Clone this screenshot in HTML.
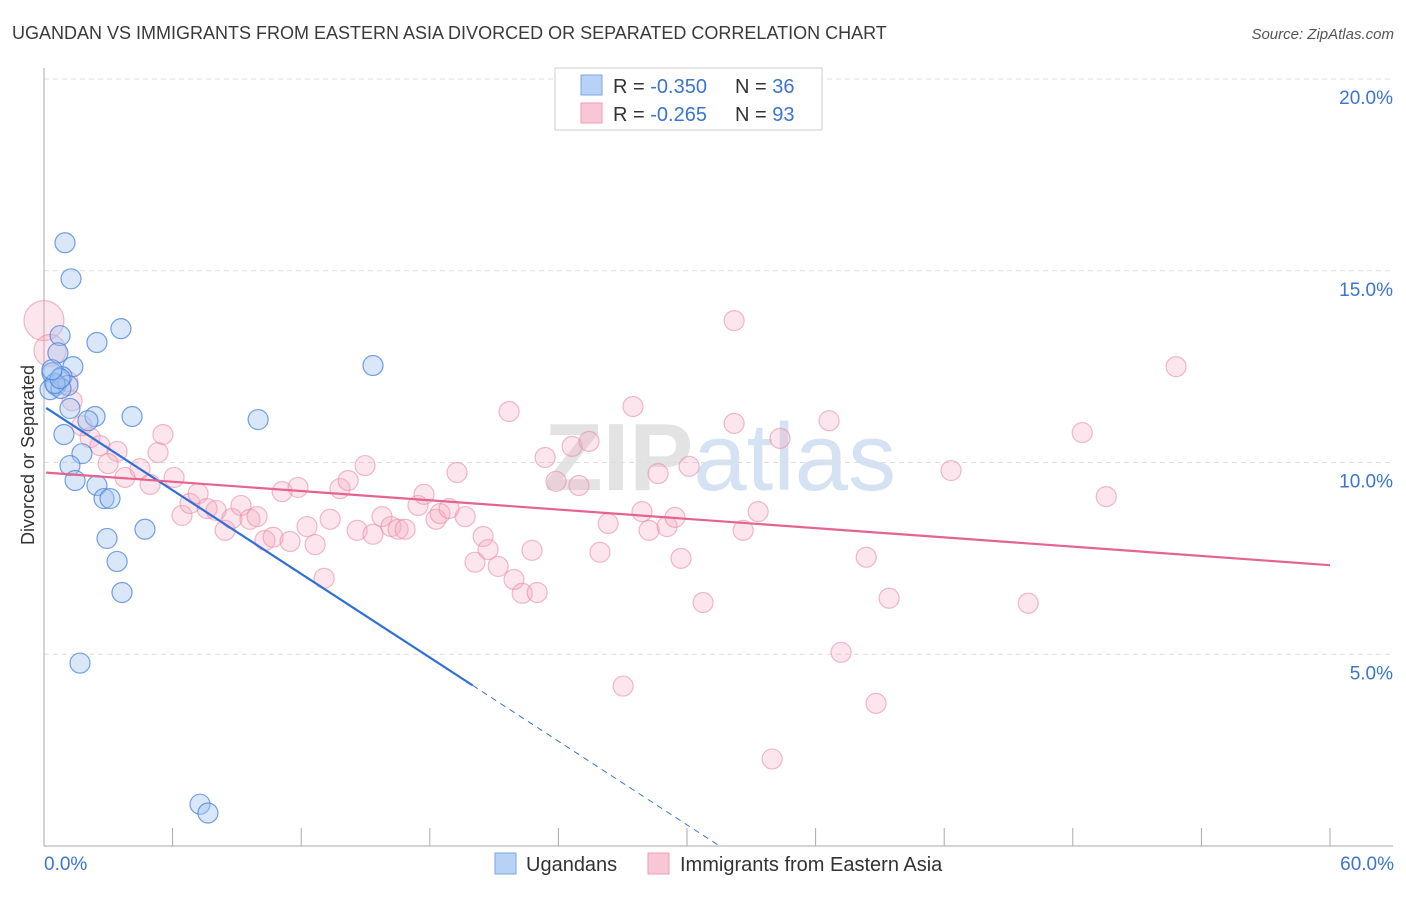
<!DOCTYPE html>
<html><head><meta charset="utf-8"><style>
body{margin:0;background:#fff;font-family:"Liberation Sans",sans-serif;}
svg text{font-family:"Liberation Sans",sans-serif;}
</style></head><body>
<svg id="chart" width="1406" height="892" xmlns="http://www.w3.org/2000/svg">
<text x="12" y="39" font-size="18" fill="#3a3a3a">UGANDAN VS IMMIGRANTS FROM EASTERN ASIA DIVORCED OR SEPARATED CORRELATION CHART</text>
<text x="1394" y="39" font-size="15" fill="#555" text-anchor="end" font-style="italic">Source: ZipAtlas.com</text>
<text x="720" y="490" font-size="96" fill="#e3e3e3" text-anchor="middle" font-family="Liberation Serif" font-weight="bold">ZIP<tspan fill="#d4e2f4" font-family="Liberation Sans" font-weight="normal">atlas</tspan></text>
<text transform="translate(34,455) rotate(-90)" font-size="18" fill="#333" text-anchor="middle">Divorced or Separated</text>
<g id="grid"></g><g id="axes"></g><g id="marks"></g><g id="lines"></g>
<g>
<rect x="555" y="68" width="267" height="62" fill="#fff" stroke="#ccc"/>
<rect x="581" y="75" width="21" height="20" fill="#b8d2f5" stroke="#7aa6e4"/>
<rect x="581" y="103" width="21" height="20" fill="#f8c6d4" stroke="#ee9db6"/>
<text x="613" y="93" font-size="20" fill="#333">R = <tspan fill="#3b74d1">-0.350</tspan><tspan x="735">N = </tspan><tspan fill="#3b74d1">36</tspan></text>
<text x="613" y="121" font-size="20" fill="#333">R = <tspan fill="#3b74d1"> -0.265</tspan><tspan x="735">N = </tspan><tspan fill="#3b74d1">93</tspan></text>
</g>
<g>
<rect x="495" y="853" width="21" height="21" fill="#b8d2f5" stroke="#7aa6e4"/>
<text x="526" y="871" font-size="20" fill="#333">Ugandans</text>
<rect x="648" y="853" width="21" height="21" fill="#f8c6d4" stroke="#ee9db6"/>
<text x="680" y="871" font-size="20" fill="#333">Immigrants from Eastern Asia</text>
</g>
</svg>
<script>
const blueX=[0.98,1.26,3.59,2.47,0.75,0.65,1.35,0.37,0.56,0.28,0.84,1.12,0.79,1.21,2.38,2.05,4.11,9.99,15.35,0.93,1.77,1.21,1.45,2.47,2.80,3.08,2.94,4.71,3.41,3.64,1.68,7.28,7.65,0.51,0.75,0.37];
const blueY=[15.73,14.79,13.49,13.13,13.31,12.86,12.50,12.34,12.01,11.90,12.24,12.01,11.93,11.41,11.20,11.09,11.20,11.12,12.53,10.73,10.23,9.92,9.53,9.40,9.06,9.06,8.02,8.26,7.42,6.61,4.77,1.09,0.86,12.06,12.19,12.42];
const pinkX=[0,0.28,1.12,1.31,1.77,2.15,2.61,3.41,2.99,3.78,4.48,4.95,5.32,5.55,6.07,6.44,6.81,7.19,7.61,8.03,8.45,8.77,9.19,9.61,9.94,10.31,10.69,11.11,11.48,11.85,12.27,12.65,13.07,13.35,13.81,14.19,14.61,14.98,15.35,15.77,16.19,16.52,16.85,17.45,17.73,18.29,18.48,18.90,19.27,19.65,20.11,20.49,20.72,21.19,21.70,21.93,22.31,22.77,23.01,23.38,23.89,24.64,24.96,25.43,25.94,26.32,27.02,27.48,27.90,28.23,28.65,29.07,29.44,29.72,30.10,30.75,32.20,32.20,32.62,33.32,33.97,34.34,36.63,37.19,38.36,38.82,39.43,42.32,45.92,48.44,49.56,52.82];
const pinkY=[13.70,12.92,12.11,11.61,10.96,10.65,10.44,10.29,9.97,9.61,9.84,9.43,10.26,10.73,9.61,8.62,8.93,9.19,8.80,8.75,8.23,8.54,8.88,8.52,8.59,7.97,8.05,9.24,7.94,9.35,8.33,7.86,6.98,8.52,9.32,9.53,8.23,9.92,8.13,8.59,8.33,8.26,8.26,8.88,9.17,8.52,8.67,8.80,9.74,8.59,7.40,8.07,7.73,7.29,11.33,6.95,6.59,7.71,6.61,10.13,9.51,10.42,9.40,10.55,7.66,8.41,4.17,11.46,8.72,8.23,9.71,8.33,8.57,7.50,9.90,6.35,13.70,11.02,8.23,8.72,2.27,10.63,11.09,5.05,7.53,3.72,6.46,9.79,6.33,10.78,9.11,12.50];
const pinkR=[20,16];
const blueTrend=[11.46,-0.3636];
const pinkTrend=[9.74,-0.0403];
const yTicks=[5,10,15,20];
const xTickCount=10;
const NS="http://www.w3.org/2000/svg";
const sx=v=>44+v*1286/60;
const sy=v=>846-v*38.35;
function mk(tag,attrs,parent){const e=document.createElementNS(NS,tag);for(const k in attrs)e.setAttribute(k,attrs[k]);parent.appendChild(e);return e;}
const grid=document.getElementById('grid'),axes=document.getElementById('axes'),marks=document.getElementById('marks'),lines=document.getElementById('lines');
yTicks.forEach(t=>{
 const l=mk('line',{x1:44,x2:1393,y1:sy(t),y2:sy(t),stroke:'#ddd','stroke-dasharray':'5,4'},grid);
 
 
 const tx=mk('text',{x:1393,y:sy(t)+25,'font-size':19,fill:'#3b74d1','text-anchor':'end'},grid);
 tx.textContent=t.toFixed(1)+'%';
 
 
});
const ax=mk('line',{x1:44,x2:44,y1:68,y2:846,stroke:'#aaa'},axes);


const bx=mk('line',{x1:44,x2:1393,y1:846,y2:846,stroke:'#aaa'},axes);


for(let i=1;i<=xTickCount;i++){const x=sx(i*60/xTickCount);const t=mk('line',{x1:x,x2:x,y1:828,y2:846,stroke:'#aaa'},axes);
 
 }
const xl0=mk('text',{x:44,y:870,'font-size':19,fill:'#3b74d1'},axes);xl0.textContent='0.0%';


const xl1=mk('text',{x:1394,y:870,'font-size':19,fill:'#3b74d1','text-anchor':'end'},axes);xl1.textContent='60.0%';


pinkX.forEach((v,i)=>{const c=mk('circle',{cx:sx(v),cy:sy(pinkY[i]),r:pinkR[i]||10,fill:'rgba(244,170,192,0.3)',stroke:'rgba(232,140,168,0.6)','stroke-width':1.2},marks);
 
 });
blueX.forEach((v,i)=>{const c=mk('circle',{cx:sx(v),cy:sy(blueY[i]),r:10,fill:'rgba(160,196,240,0.4)',stroke:'rgba(70,130,220,0.75)','stroke-width':1.2},marks);
 
 });
const bEnd=20.0, bZero=-blueTrend[0]/blueTrend[1];
const bl=mk('line',{x1:sx(0.1),y1:sy(blueTrend[0]+blueTrend[1]*0.1),x2:sx(bEnd),y2:sy(blueTrend[0]+blueTrend[1]*bEnd),stroke:'#2f6fd6','stroke-width':2.2},lines);


const bd=mk('line',{x1:sx(bEnd),y1:sy(blueTrend[0]+blueTrend[1]*bEnd),x2:sx(bZero),y2:sy(0),stroke:'#2f6fd6','stroke-width':1,'stroke-dasharray':'6,5'},lines);


const pl=mk('line',{x1:sx(0.1),y1:sy(pinkTrend[0]+pinkTrend[1]*0.1),x2:sx(60),y2:sy(pinkTrend[0]+pinkTrend[1]*60),stroke:'#e5638e','stroke-width':2.2},lines);


</script>
</body></html>
